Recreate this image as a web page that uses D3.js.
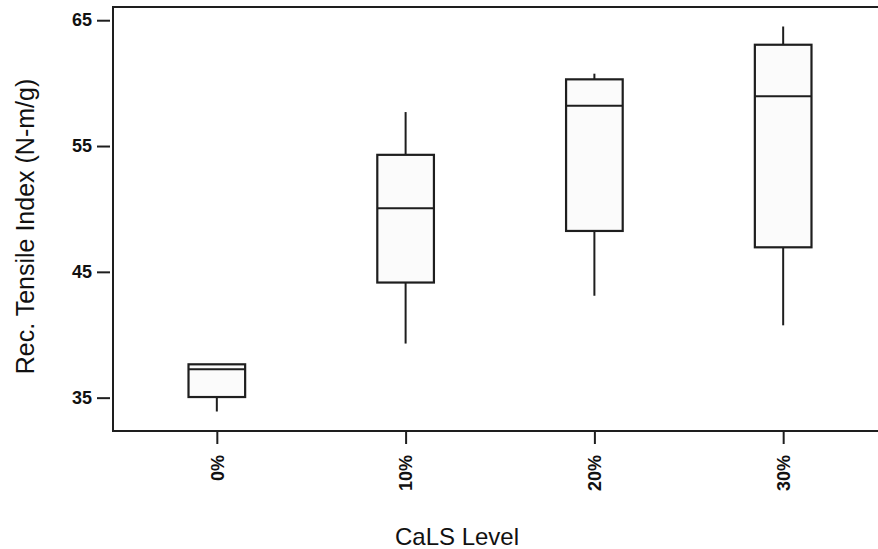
<!DOCTYPE html>
<html>
<head>
<meta charset="utf-8">
<script src="https://cdn.jsdelivr.net/npm/d3@7"></script>
<style>
  body { margin: 0; background: #fff; }
  svg { display: block; font-family: "Liberation Sans", Arial, sans-serif; }
</style>
</head>
<body>
<div class="chart"></div>
<script>
// Données
const levels = ['0%', '10%', '20%', '30%']
const whiskerLow = [33.9, 39.3, 43.1, 40.75]
const q1 = [35.05, 44.15, 48.25, 46.95]
const median = [37.25, 50.05, 58.2, 58.95]
const q3 = [37.65, 54.3, 60.3, 63.05]
const whiskerHigh = [37.65, 57.7, 60.75, 64.5]
const yTicks = [35, 45, 55, 65]

const boxes = levels.map((lvl, i) => ({
    level: lvl,
    lo: whiskerLow[i], q1: q1[i], med: median[i], q3: q3[i], hi: whiskerHigh[i]
}))

// Dimensions
const width = 878,
    height = 549
const plot = { left: 113, top: 7, right: 887, bottom: 431 }

const svg = d3.select('.chart')
    .append('svg')
    .attr('width', width)
    .attr('height', height)

// Echelles
const x = d3.scalePoint()
    .domain(levels)
    .range([plot.left, plot.right])
    .padding(0.55)

const y = d3.scaleLinear()
    .domain([32.35, 66.05])
    .range([plot.bottom, plot.top])

const boxW = x.step() * 0.3
const ink = '#1e1e1e'

// Cadre du graphe
svg.append('rect')
    .attr('x', plot.left)
    .attr('y', plot.top)
    .attr('width', plot.right - plot.left)
    .attr('height', plot.bottom - plot.top)
    .attr('fill', 'none')
    .attr('stroke', ink)
    .attr('stroke-width', 2)

// Axe Y
const yAxis = svg.append('g')
    .attr('transform', `translate(${plot.left - 3}, 0)`)
    .call(d3.axisLeft(y).tickValues(yTicks).tickSize(13).tickPadding(5))
yAxis.select('.domain').remove()
yAxis.selectAll('line').attr('stroke', ink).attr('stroke-width', 2)
yAxis.selectAll('text')
    .attr('fill', '#111')
    .style('font-size', '18px')
    .style('font-weight', 'bold')

// Axe X
const xAxis = svg.append('g')
    .attr('transform', `translate(0, ${plot.bottom})`)
    .call(d3.axisBottom(x).tickSize(13).tickPadding(0))
xAxis.select('.domain').remove()
xAxis.selectAll('line').attr('stroke', ink).attr('stroke-width', 2)
xAxis.selectAll('text')
    .attr('fill', '#111')
    .attr('transform', 'translate(0, 24) rotate(-90)')
    .attr('x', 0)
    .attr('y', 0)
    .attr('dy', '0.35em')
    .style('text-anchor', 'end')
    .style('font-size', '18px')
    .style('font-weight', 'bold')

// Boites
const g = svg.append('g')
    .selectAll('g')
    .data(boxes)
    .join('g')

// Moustaches
g.append('line')
    .attr('x1', d => x(d.level))
    .attr('x2', d => x(d.level))
    .attr('y1', d => y(d.lo))
    .attr('y2', d => y(d.q1))
    .attr('stroke', ink)
    .attr('stroke-width', 2)

g.append('line')
    .attr('x1', d => x(d.level))
    .attr('x2', d => x(d.level))
    .attr('y1', d => y(d.q3))
    .attr('y2', d => y(d.hi))
    .attr('stroke', ink)
    .attr('stroke-width', 2)

g.append('rect')
    .attr('x', d => x(d.level) - boxW / 2)
    .attr('y', d => y(d.q3))
    .attr('width', boxW)
    .attr('height', d => y(d.q1) - y(d.q3))
    .attr('fill', '#fbfbfb')
    .attr('stroke', ink)
    .attr('stroke-width', 2.2)

// Médiane
g.append('line')
    .attr('x1', d => x(d.level) - boxW / 2)
    .attr('x2', d => x(d.level) + boxW / 2)
    .attr('y1', d => y(d.med))
    .attr('y2', d => y(d.med))
    .attr('stroke', ink)
    .attr('stroke-width', 2)

// Titres des axes
svg.append('text')
    .attr('transform', `translate(34, ${(70 + 383) / 2}) rotate(-90)`)
    .attr('text-anchor', 'middle')
    .attr('fill', '#111')
    .style('font-size', '25px')
    .text('Rec. Tensile Index (N-m/g)')

svg.append('text')
    .attr('x', 457)
    .attr('y', 545)
    .attr('text-anchor', 'middle')
    .attr('fill', '#111')
    .style('font-size', '24px')
    .text('CaLS Level')
</script>
</body>
</html>
